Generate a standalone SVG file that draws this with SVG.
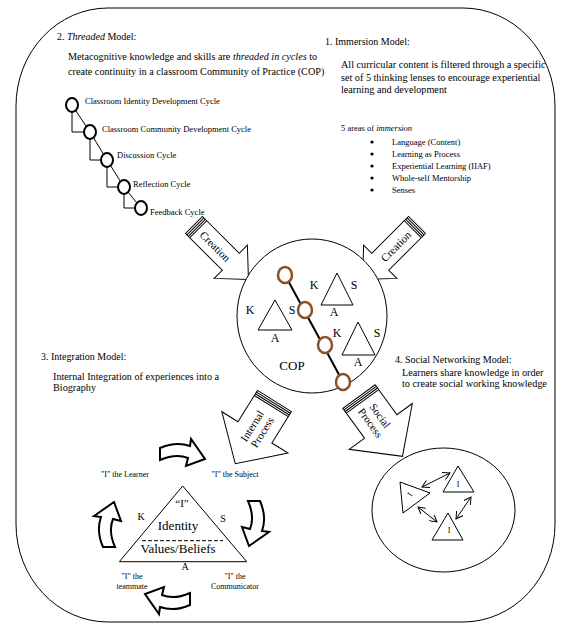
<svg xmlns="http://www.w3.org/2000/svg" width="566" height="629" viewBox="0 0 566 629">
<style>
text{font-family:"Liberation Serif","Times New Roman",serif;fill:#000}
.t10{font-size:10px}
.t9{font-size:10.2px}
.t85{font-size:8.5px}
.t8{font-size:8px}
.t11{font-size:11px}
.ln{stroke:#000;stroke-width:1;fill:none}
.cyc{fill:#fff;stroke:#000;stroke-width:2}
.chain{fill:#fff;stroke:#8a5228;stroke-width:2.5}
.tri{fill:#fff;stroke:#000;stroke-width:1}
.blk{fill:#fff;stroke:#000;stroke-width:1}
.curv{fill:#fff;stroke:#000;stroke-width:2;stroke-linejoin:miter}
.mid{text-anchor:middle}
.lbl{font-size:12px;text-anchor:middle}
</style>
<defs>
<marker id="ah" viewBox="0 0 8 8" refX="7" refY="4" markerWidth="8" markerHeight="8" markerUnits="userSpaceOnUse" orient="auto-start-reverse">
<path d="M0,0 L7,4 L0,8" fill="none" stroke="#000" stroke-width="1"/>
</marker>
<g id="creationShape">
<polygon class="blk" points="0,-12 52,-12 52,-23.5 77,0 52,23.5 52,12 0,12"/>
<path class="ln" d="M2,-12V12M4,-12V12M6,-12V12"/>
</g>
<g id="processShape">
<polygon class="blk" points="0,-20 37,-20 37,-39 74,0 37,39 37,20 0,20"/>
<path class="ln" d="M2,-20V20M4,-20V20M6,-20V20"/>
</g>
<path id="curvArrow" class="curv" d="M-22,-5 Q-6,-12 8,-7 L9,-14 L23,6 L4,13 L6,5 Q-6,0 -22,7 Z"/>
</defs>

<rect id="frame" x="16" y="8" width="539" height="614" rx="92" ry="98" fill="none" stroke="#000" stroke-width="1"/>

<g id="threaded-model">
<text class="t10" x="57" y="40">2. <tspan font-style="italic">Threaded</tspan> Model:</text>
<text class="t9" x="68" y="60">Metacognitive knowledge and skills are <tspan font-style="italic">threaded in cycles</tspan> to</text>
<text class="t9" x="68" y="75">create continuity in a classroom Community of Practice (COP)</text>
</g>

<g id="connectors">
<path class="ln" d="M72,105 L90,132 L107,160 L124,187 L141,208"/>
<path class="ln" d="M72,112 V132 H84 M90,139 V160 H101 M107,167 V187 H118 M124,194 V208 H135"/>
<path stroke="#000" stroke-width="2" fill="none" d="M285,275 L343,382"/>
<line class="ln" x1="422" y1="487" x2="450" y2="473" marker-start="url(#ah)" marker-end="url(#ah)"/>
<line class="ln" x1="418" y1="507" x2="437" y2="522" marker-start="url(#ah)" marker-end="url(#ah)"/>
<line class="ln" x1="471" y1="497" x2="456" y2="519" marker-start="url(#ah)" marker-end="url(#ah)"/>
</g>

<g id="cycle-identity"><ellipse class="cyc" cx="72" cy="105" rx="6" ry="7"/><text class="t85" x="85" y="104">Classroom Identity Development Cycle</text></g>
<g id="cycle-community"><ellipse class="cyc" cx="90" cy="132" rx="6" ry="7"/><text class="t85" x="102" y="132">Classroom Community Development Cycle</text></g>
<g id="cycle-discussion"><ellipse class="cyc" cx="107" cy="160" rx="6" ry="7"/><text class="t85" x="117" y="158">Discussion Cycle</text></g>
<g id="cycle-reflection"><ellipse class="cyc" cx="124" cy="187" rx="6" ry="7"/><text class="t85" x="133" y="187">Reflection Cycle</text></g>
<g id="cycle-feedback"><ellipse class="cyc" cx="141" cy="208" rx="6" ry="7"/><text class="t85" x="150" y="215">Feedback Cycle</text></g>

<g id="immersion-model">
<text class="t10" x="325" y="45">1. Immersion Model:</text>
<text class="t9" x="341" y="68">All curricular content is filtered through a specific</text>
<text class="t9" x="341" y="81">set of 5 thinking lenses to encourage experiential</text>
<text class="t9" x="341" y="93">learning and development</text>
<text class="t85" x="341" y="131">5 areas of <tspan font-style="italic">immersion</tspan></text>
<g class="t85">
<circle cx="372" cy="142" r="1.6"/><text x="392" y="145">Language (Content)</text>
<circle cx="372" cy="154" r="1.6"/><text x="392" y="157">Learning as Process</text>
<circle cx="372" cy="166" r="1.6"/><text x="392" y="169">Experiential Learning (IIAF)</text>
<circle cx="372" cy="178" r="1.6"/><text x="392" y="181">Whole-self Mentorship</text>
<circle cx="372" cy="190" r="1.6"/><text x="392" y="193">Senses</text>
</g>
</g>

<g id="creation-left" transform="translate(194,225) rotate(45)">
<use href="#creationShape"/>
<text class="t11 mid" x="30" y="4">Creation</text>
</g>
<g id="creation-right" transform="translate(417,225) rotate(135)">
<use href="#creationShape"/>
<text class="t11 mid" transform="translate(30,0) rotate(180)" y="4">Creation</text>
</g>

<g id="cop">
<ellipse cx="312" cy="316" rx="75" ry="77" fill="#fff" stroke="#000" stroke-width="1"/>
<polygon class="tri" points="275,300 258,330 292,330"/>
<text class="lbl" x="250" y="314">K</text>
<text class="lbl" x="292" y="314">S</text>
<text class="lbl" x="275" y="342">A</text>
<polygon class="tri" points="337,273 321,305 353,305"/>
<text class="lbl" x="314" y="289">K</text>
<text class="lbl" x="354" y="289">S</text>
<text class="lbl" x="334" y="316">A</text>
<polygon class="tri" points="358,322 342,355 375,355"/>
<text class="lbl" x="337" y="337">K</text>
<text class="lbl" x="377" y="337">S</text>
<text class="lbl" x="358" y="366">A</text>
<text class="mid" style="font-size:13px" x="292" y="370">COP</text>
</g>
<g id="chain">
<path stroke="#000" stroke-width="2" fill="none" d="M285,275 L343,382"/>
<ellipse class="chain" cx="285" cy="275" rx="7" ry="8"/>
<ellipse class="chain" cx="305" cy="310" rx="7" ry="8"/>
<ellipse class="chain" cx="325" cy="345" rx="7" ry="8"/>
<ellipse class="chain" cx="343" cy="382" rx="7" ry="8"/>
</g>

<g id="integration-model">
<text class="t10" x="41" y="360">3. Integration Model:</text>
<text class="t9" x="53" y="380">Internal Integration of experiences into a</text>
<text class="t9" x="53" y="391">Biography</text>
</g>

<g id="social-model">
<text class="t10" x="395" y="363">4. Social Networking Model:</text>
<text class="t9" x="402" y="376">Learners share knowledge in order</text>
<text class="t9" x="402" y="387">to create social working knowledge</text>
</g>

<g id="internal-process" transform="translate(274.5,401) rotate(122)">
<use href="#processShape"/>
<g transform="translate(33,0) rotate(180)">
<text class="t11 mid" y="-2">Internal</text>
<text class="t11 mid" y="10">Process</text>
</g>
</g>
<g id="social-process" transform="translate(359,396.5) rotate(54)">
<use href="#processShape"/>
<text class="t11 mid" x="28" y="-2">Social</text>
<text class="t11 mid" x="28" y="10">Process</text>
</g>

<g id="social-network">
<ellipse cx="443.5" cy="510" rx="71.5" ry="62" fill="none" stroke="#000" stroke-width="1"/>
<polygon class="tri" points="458,466 443,492 474,492"/>
<text class="t8 mid" x="458" y="487">I</text>
<polygon class="tri" points="448,513 432,540 463,540"/>
<text class="t8 mid" x="449" y="533">I</text>
<polygon class="tri" points="400,482 430,493 403,513"/>
<text class="t8 mid" transform="translate(412,496) rotate(-55)">I</text>
</g>

<g id="identity-triangle">
<polygon class="tri" points="182.7,486 119.3,561.7 246.7,561.7"/>
<line x1="142" y1="540.7" x2="223" y2="540.7" stroke="#000" stroke-width="1" stroke-dasharray="4,2"/>
<text class="mid" style="font-size:11px" x="182" y="507">“I”</text>
<text class="mid" style="font-size:13px" x="178" y="530">Identity</text>
<text class="mid" style="font-size:13px" x="178" y="553">Values/Beliefs</text>
<text class="t10 mid" x="141" y="520">K</text>
<text class="t10 mid" x="223" y="522">S</text>
<text class="t10 mid" x="185" y="570">A</text>
<text class="t8 mid" x="125" y="477">"I" the Learner</text>
<text class="t8 mid" x="235" y="477">"I" the Subject</text>
<text class="t8 mid" x="132" y="579">"I" the</text>
<text class="t8 mid" x="132" y="589">teammate</text>
<text class="t8 mid" x="235" y="579">"I" the</text>
<text class="t8 mid" x="235" y="589">Communicator</text>
</g>

<g id="cycle-arrows">
<use href="#curvArrow" transform="translate(182,453)"/>
<use href="#curvArrow" transform="translate(255,523) rotate(90)"/>
<use href="#curvArrow" transform="translate(168,600) rotate(180)"/>
<use href="#curvArrow" transform="translate(108,525) rotate(270)"/>
</g>
</svg>
